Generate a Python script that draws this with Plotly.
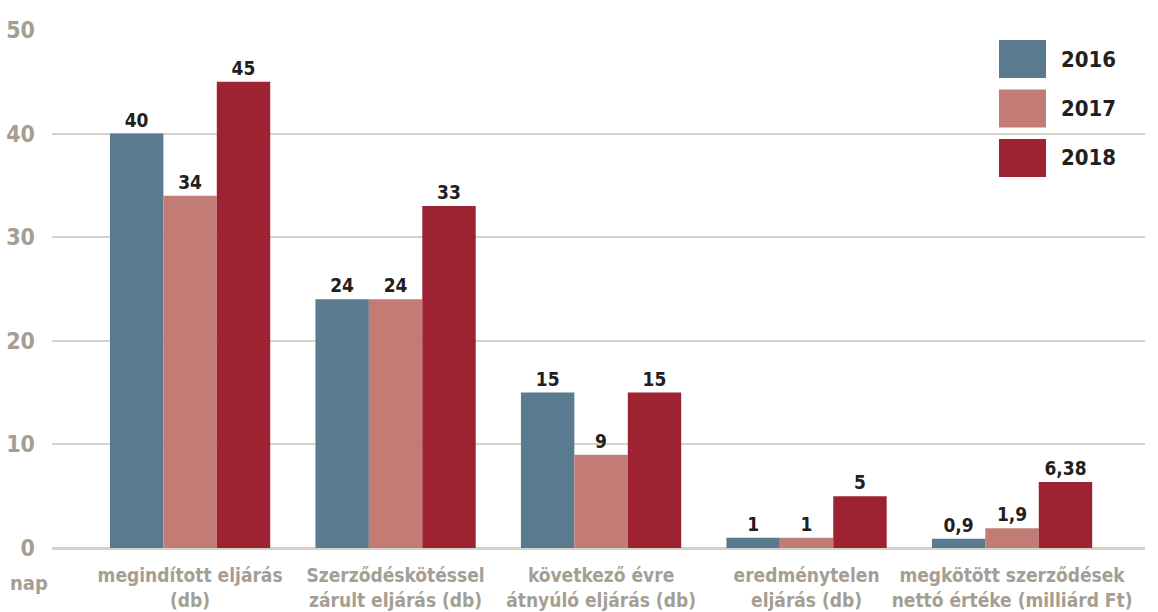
import plotly.graph_objects as go

# Categories (two-line labels) and yearly values
categories = [
    "megindított eljárás<br>(db)",
    "Szerződéskötéssel<br>zárult eljárás (db)",
    "következő évre<br>átnyúló eljárás (db)",
    "eredménytelen<br>eljárás (db)",
    "megkötött szerződések<br>nettó értéke (milliárd Ft)",
]
years = ["2016", "2017", "2018"]
values_2016 = [40, 24, 15, 1, 0.9]
values_2017 = [34, 24, 9, 1, 1.9]
values_2018 = [45, 33, 15, 5, 6.38]
colors = ["#5a7b8f", "#c27c75", "#9d2333"]
y_ticks = [0, 10, 20, 30, 40, 50]
y_unit = "nap"

FONT = "DejaVu Sans Condensed"
GRAY = "#a49e93"
DARK = "#231f20"
GRID = "#d3d3c7"


def fmt(v):
    return f"{v:g}".replace(".", ",")


fig = go.Figure()
for name, vals, col in zip(years, [values_2016, values_2017, values_2018], colors):
    fig.add_trace(go.Bar(
        x=list(range(len(categories))), y=vals, name=name,
        marker=dict(color=col, line=dict(width=0)),
        text=[f"<b>{fmt(v)}</b>" for v in vals], textposition="outside",
        textfont=dict(family=FONT, size=19, color=DARK),
        cliponaxis=False, showlegend=False,
    ))

# Legend drawn as large colour squares with year labels
for i, (name, col) in enumerate(zip(years, colors)):
    y_top = 1 - (40 - 30 + i * 49.5) / 518
    y_bot = y_top - 38 / 518
    fig.add_shape(type="rect", xref="paper", yref="paper",
                  x0=(999 - 52) / 1093, x1=(1046 - 52) / 1093,
                  y0=y_bot, y1=y_top, fillcolor=col, line=dict(width=0))
    fig.add_annotation(xref="paper", yref="paper",
                       x=(1059 - 52) / 1093, y=(y_top + y_bot) / 2,
                       text=f"<b>{name}</b>", showarrow=False,
                       xanchor="left", yanchor="middle",
                       font=dict(family=FONT, size=22, color=DARK))

fig.add_annotation(xref="paper", yref="paper", x=(8 - 52) / 1093, y=-0.04,
                   text=f"<b>{y_unit}</b>", showarrow=False,
                   xanchor="left", yanchor="top",
                   font=dict(family=FONT, size=20, color=GRAY))

fig.update_layout(
    width=1158, height=612,
    margin=dict(l=52, r=13, t=30, b=64),
    paper_bgcolor="white", plot_bgcolor="white",
    barmode="group", bargap=0.22, bargroupgap=0,
    showlegend=False,
    xaxis=dict(
        tickvals=list(range(len(categories))),
        ticktext=[f"<b>{c}</b>" for c in categories],
        range=[-0.672, 4.647], showgrid=False, zeroline=False,
        showline=False, ticks="", tickangle=0, automargin=False,
        ticklabelstandoff=14,
        tickfont=dict(family=FONT, size=19, color=GRAY),
    ),
    yaxis=dict(
        range=[0, 50], tickvals=y_ticks,
        ticktext=[f"<b>{t}</b>" for t in y_ticks],
        showgrid=True, gridcolor=GRID, gridwidth=2,
        zeroline=True, zerolinecolor=GRID, zerolinewidth=3,
        showline=False, ticks="", ticklabelstandoff=16, automargin=False,
        tickfont=dict(family=FONT, size=23, color=GRAY),
    ),
)

fig.write_html("out.html")
